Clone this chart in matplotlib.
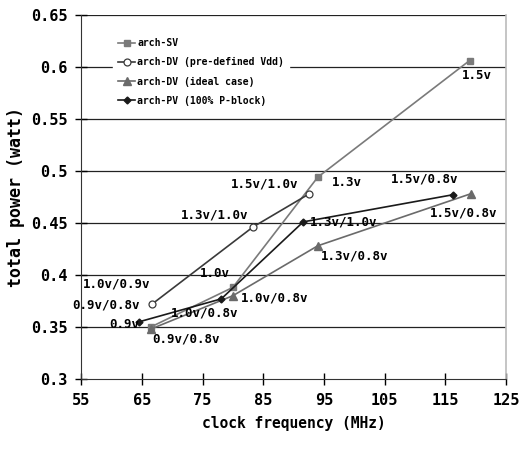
import matplotlib
matplotlib.use("Agg")
import matplotlib.pyplot as plt

plt.rcParams['font.family'] = ['DejaVu Sans Mono']
plt.rcParams['font.weight'] = 'bold'

# data
sv_x = [66.5, 80.0, 94.0, 119.0]
sv_y = [0.350, 0.388, 0.494, 0.606]
dvp_x = [66.7, 83.3, 92.6]
dvp_y = [0.372, 0.446, 0.478]
dvi_x = [66.5, 80.0, 94.0, 119.2]
dvi_y = [0.348, 0.380, 0.428, 0.478]
pv_x = [64.6, 78.1, 91.6, 116.2]
pv_y = [0.355, 0.377, 0.451, 0.477]

series_names = ["arch-SV", "arch-DV (pre-defined Vdd)", "arch-DV (ideal case)", "arch-PV (100% P-block)"]
x_ticks = [55, 65, 75, 85, 95, 105, 115, 125]
y_ticks = [0.3, 0.35, 0.4, 0.45, 0.5, 0.55, 0.6, 0.65]
y_tick_labels = ["0.3", "0.35", "0.4", "0.45", "0.5", "0.55", "0.6", "0.65"]

# (series, index, text, dx, dy, ha)
labels = [
    ("sv", 3, "1.5v", -8, -15, "left"),
    ("sv", 2, "1.3v", 14, -5, "left"),
    ("sv", 1, "1.0v", -3, 14, "right"),
    ("sv", 0, "0.9v", -12, 2, "right"),
    ("dvp", 2, "1.5v/1.0v", -11, 10, "right"),
    ("dvp", 1, "1.3v/1.0v", -5, 12, "right"),
    ("dvp", 0, "1.0v/0.9v", -2, 20, "right"),
    ("pv", 0, "0.9v/0.8v", 0, 17, "right"),
    ("dvi", 0, "0.9v/0.8v", 1, -10, "left"),
    ("pv", 1, "1.0v/0.8v", 17, -14, "right"),
    ("dvi", 1, "1.0v/0.8v", 8, -2, "left"),
    ("pv", 2, "1.3v/1.0v", 7, 0, "left"),
    ("dvi", 2, "1.3v/0.8v", 3, -10, "left"),
    ("pv", 3, "1.5v/0.8v", 6, 16, "right"),
    ("dvi", 3, "1.5v/0.8v", 27, -19, "right"),
]

fig = plt.figure(figsize=(5.2, 4.49), dpi=100)
ax = fig.add_axes([0.156, 0.156, 0.817, 0.811])

for y in y_ticks[1:]:
    ax.axhline(y, color='#222222', lw=0.9, zorder=1)

data = {"sv": (sv_x, sv_y), "dvp": (dvp_x, dvp_y), "dvi": (dvi_x, dvi_y), "pv": (pv_x, pv_y)}
ax.plot(sv_x, sv_y, color='#7a7a7a', lw=1.2, marker='s', ms=5, label=series_names[0], zorder=3)
ax.plot(dvp_x, dvp_y, color='#3a3a3a', lw=1.2, marker='o', ms=5, mfc='white', mec='#3a3a3a', mew=0.9,
        label=series_names[1], zorder=3)
ax.plot(dvi_x, dvi_y, color='#6a6a6a', lw=1.2, marker='^', ms=5.5, label=series_names[2], zorder=3)
ax.plot(pv_x, pv_y, color='#1a1a1a', lw=1.2, marker='D', ms=3.5, label=series_names[3], zorder=3)

for key, i, txt, dx, dy, ha in labels:
    xs, ys = data[key]
    ax.annotate(txt, (xs[i], ys[i]), xytext=(dx, dy), textcoords='offset pixels',
                ha=ha, va='center', fontsize=9, fontweight='bold', color='black', zorder=4)

ax.set_xlim(55, 125)
ax.set_ylim(0.3, 0.65)
ax.set_xticks(x_ticks)
ax.set_yticks(y_ticks)
ax.set_yticklabels(y_tick_labels)
ax.tick_params(direction='inout', length=8, width=1, labelsize=11, pad=6)
for lab in ax.get_xticklabels() + ax.get_yticklabels():
    lab.set_fontweight('bold')

ax.spines['top'].set_visible(False)
ax.spines['right'].set_color('#bbbbbb')
ax.spines['right'].set_linewidth(1.2)
ax.spines['left'].set_color('#333333')
ax.spines['bottom'].set_color('#333333')

ax.set_xlabel("clock frequency (MHz)", fontsize=10.5, fontweight='bold', labelpad=6)
ax.set_ylabel("total power (watt)", fontsize=12, fontweight='bold', labelpad=4)

leg = ax.legend(loc='upper left', bbox_to_anchor=(0.064, 0.963), frameon=True, fontsize=7,
                handlelength=1.75, handletextpad=0.25, labelspacing=0.95, borderpad=0.5)
leg.get_frame().set_edgecolor('white')
leg.get_frame().set_facecolor('white')
leg.get_frame().set_alpha(1)
leg.get_frame().set_boxstyle('square', pad=0)
for t in leg.get_texts():
    t.set_fontweight('bold')
leg.set_zorder(5)

fig.savefig("out.png", dpi=100)
